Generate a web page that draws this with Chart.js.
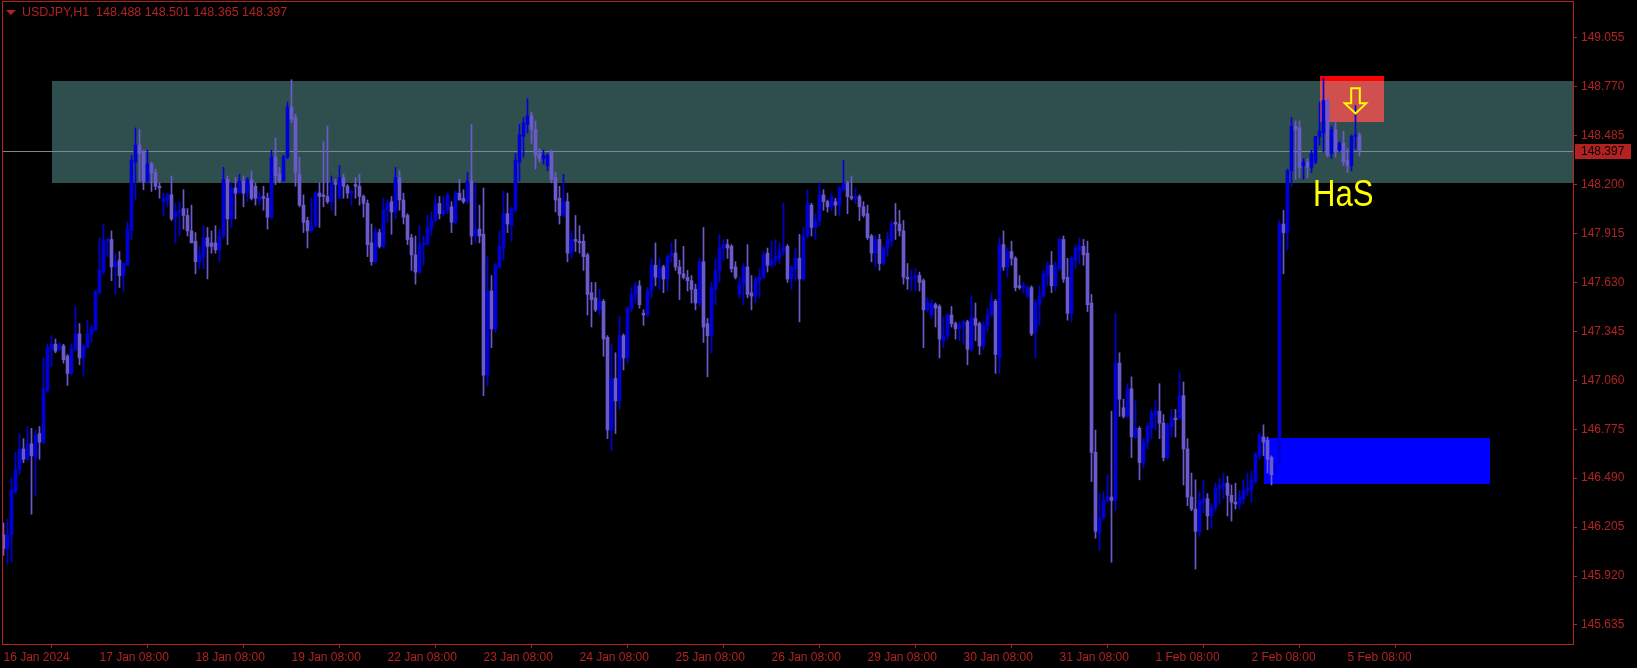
<!DOCTYPE html>
<html>
<head>
<meta charset="utf-8">
<script src="https://cdn.jsdelivr.net/npm/chart.js@4.4.0/dist/chart.umd.min.js"></script>
<style>
  html, body { margin: 0; padding: 0; background: #000; }
  canvas { display: block; }
</style>
</head>
<body>
<canvas id="chart" width="1637" height="668"></canvas>
<script>
const symbolTitle = 'USDJPY,H1';

// hourly candles, 16 Jan 08:00 .. 5 Feb 11:00
const openPrices = [
  146.16,146.08,146.16,146.41,146.54,146.66,146.60,146.69,146.61,146.75,
  146.70,147.00,147.24,147.27,147.24,147.26,147.20,147.10,147.24,147.33,
  147.19,147.25,147.33,147.35,147.57,147.69,147.87,147.88,147.72,147.76,
  147.67,147.73,147.93,148.33,148.43,148.39,148.22,148.32,148.27,148.19,
  148.10,148.11,148.14,148.01,148.04,148.06,148.02,147.93,147.87,147.75,
  147.78,147.89,147.86,147.86,147.82,147.90,148.23,148.00,148.18,148.15,
  148.22,148.15,148.23,148.19,148.11,148.13,148.12,148.01,148.36,148.26,
  148.22,148.36,148.65,148.59,148.26,148.08,147.99,147.93,147.96,148.15,
  148.14,148.13,148.10,148.21,148.12,148.24,148.19,148.15,148.20,148.19,
  148.13,148.09,147.86,147.75,147.92,147.84,148.05,148.10,148.04,148.24,
  148.11,148.02,147.89,147.79,147.69,147.85,147.85,147.95,147.99,148.09,
  148.03,148.05,148.07,147.98,148.15,148.12,148.10,148.22,147.90,147.94,
  147.91,147.09,147.58,147.36,147.72,147.83,148.03,147.96,148.05,148.33,
  148.48,148.55,148.60,148.52,148.38,148.35,148.31,148.39,148.24,148.12,
  148.02,148.10,147.80,147.88,147.87,147.87,147.79,147.57,147.54,147.47,
  147.52,147.31,146.77,147.07,146.94,147.32,147.19,147.48,147.56,147.61,
  147.45,147.44,147.58,147.73,147.66,147.72,147.65,147.78,147.80,147.72,
  147.68,147.66,147.64,147.59,147.51,147.75,147.39,147.32,147.59,147.70,
  147.83,147.85,147.84,147.72,147.56,147.62,147.72,147.57,147.55,147.64,
  147.66,147.80,147.73,147.76,147.77,147.81,147.84,147.65,147.71,147.77,
  147.65,147.90,148.08,147.95,147.99,148.14,148.10,148.07,148.10,148.08,
  148.17,148.21,148.13,148.12,148.13,148.07,148.03,147.90,147.80,147.88,
  147.74,147.83,147.87,147.98,147.97,147.93,147.66,147.65,147.66,147.67,
  147.64,147.47,147.44,147.50,147.49,147.29,147.32,147.44,147.39,147.36,
  147.38,147.40,147.24,147.42,147.39,147.26,147.38,147.44,147.52,147.19,
  147.85,147.72,147.81,147.77,147.61,147.60,147.55,147.60,147.34,147.50,
  147.55,147.67,147.73,147.61,147.71,147.88,147.66,147.45,147.76,147.82,
  147.84,147.80,147.51,146.64,146.17,146.26,146.36,146.38,146.36,147.16,
  146.90,146.85,147.01,146.73,146.78,146.58,146.70,146.78,146.86,146.88,
  146.81,146.61,146.79,146.84,146.84,146.97,146.66,146.38,146.31,146.18,
  146.35,146.37,146.27,146.32,146.43,146.44,146.46,146.39,146.35,146.34,
  146.37,146.42,146.42,146.47,146.62,146.73,146.71,146.61,146.52,146.58,
  147.97,147.92,148.28,148.54,148.53,148.31,148.33,148.30,148.33,148.48,
  148.50,148.69,148.38,148.52,148.40,148.44,148.34,148.31,148.48,148.488
];
const highPrices = [
  146.23,146.25,146.49,146.64,146.75,146.72,146.79,146.78,146.77,146.79,
  147.19,147.27,147.32,147.30,147.28,147.27,147.21,147.27,147.49,147.39,
  147.27,147.41,147.38,147.58,147.89,147.97,147.89,147.93,147.80,147.81,
  147.74,147.98,148.37,148.53,148.52,148.40,148.40,148.33,148.29,148.21,
  148.15,148.15,148.25,148.09,148.10,148.17,148.06,148.08,147.92,147.84,
  147.96,147.95,147.93,147.96,147.94,148.30,148.25,148.21,148.24,148.26,
  148.25,148.24,148.28,148.21,148.16,148.19,148.15,148.40,148.47,148.30,
  148.37,148.68,148.81,148.61,148.36,148.14,148.01,148.12,148.16,148.21,
  148.45,148.54,148.25,148.23,148.31,148.26,148.20,148.17,148.24,148.26,
  148.14,148.11,147.97,147.95,147.94,148.12,148.11,148.13,148.30,148.28,
  148.15,148.03,147.91,147.90,147.96,147.90,148.02,148.04,148.14,148.13,
  148.13,148.15,148.10,148.16,148.23,148.17,148.27,148.55,148.21,148.08,
  148.18,147.78,147.67,147.74,147.93,148.16,148.15,148.07,148.38,148.55,
  148.59,148.70,148.62,148.57,148.41,148.40,148.38,148.40,148.27,148.19,
  148.26,148.15,147.93,148.02,147.96,147.91,147.80,147.63,147.63,147.59,
  147.53,147.32,147.27,147.22,147.43,147.33,147.49,147.60,147.63,147.64,
  147.47,147.60,147.77,147.86,147.77,147.73,147.79,147.86,147.88,147.76,
  147.84,147.70,147.67,147.62,147.77,147.95,147.42,147.63,147.77,147.91,
  147.88,147.88,147.85,147.75,147.66,147.74,147.85,147.67,147.66,147.71,
  147.81,147.83,147.87,147.88,147.86,148.09,147.85,147.73,147.83,147.91,
  147.95,148.17,148.09,148.03,148.21,148.17,148.11,148.15,148.12,148.19,
  148.34,148.22,148.25,148.18,148.14,148.10,148.08,147.91,147.90,147.91,
  147.84,147.92,147.99,148.09,148.05,147.99,147.74,147.70,147.71,147.69,
  147.65,147.54,147.53,147.51,147.50,147.43,147.45,147.49,147.40,147.40,
  147.41,147.41,147.55,147.51,147.40,147.40,147.48,147.57,147.53,147.89,
  147.93,147.83,147.87,147.78,147.67,147.63,147.61,147.61,147.53,147.61,
  147.70,147.75,147.81,147.75,147.89,147.90,147.77,147.78,147.85,147.89,
  147.88,147.87,147.56,146.77,146.40,146.41,146.51,146.88,147.45,147.22,
  146.95,147.04,147.08,146.94,146.79,146.72,146.81,146.89,146.94,147.04,
  146.86,146.81,146.89,146.89,147.11,147.05,146.72,146.52,146.48,146.41,
  146.48,146.40,146.34,146.46,146.49,146.52,146.50,146.45,146.46,146.42,
  146.48,146.52,146.53,146.64,146.75,146.80,146.73,146.62,146.59,147.99,
  148.05,148.29,148.59,148.57,148.57,148.35,148.35,148.40,148.48,148.68,
  148.82,148.70,148.54,148.57,148.45,148.51,148.41,148.49,148.66,148.501
];
const lowPrices = [
  146.04,145.99,146.00,146.40,146.51,146.58,146.59,146.28,146.39,146.60,
  146.69,146.99,147.14,147.22,147.23,147.16,147.03,147.09,147.23,147.15,
  147.09,147.25,147.28,147.35,147.56,147.68,147.78,147.64,147.56,147.60,
  147.58,147.73,147.88,148.11,148.22,148.17,148.21,148.16,148.17,148.12,
  148.02,148.07,147.99,147.86,147.90,147.94,147.90,147.86,147.68,147.71,
  147.71,147.65,147.80,147.80,147.75,147.89,147.85,147.95,148.00,148.15,
  148.07,148.10,148.11,148.08,148.08,148.05,147.94,148.00,148.20,148.21,
  148.22,148.35,148.56,148.19,148.07,147.92,147.83,147.92,147.95,147.95,
  148.07,148.09,148.05,148.02,148.12,148.12,148.12,148.08,148.12,148.08,
  148.01,147.78,147.73,147.74,147.83,147.83,147.98,147.91,148.00,148.05,
  147.97,147.85,147.70,147.62,147.68,147.73,147.85,147.90,147.98,148.00,
  148.02,148.03,147.92,147.97,148.11,148.09,148.09,147.85,147.86,147.86,
  146.97,147.03,147.25,147.34,147.71,147.76,147.92,147.87,148.04,148.22,
  148.36,148.50,148.44,148.29,148.33,148.32,148.28,148.21,148.04,147.97,
  148.01,147.75,147.77,147.81,147.80,147.70,147.44,147.37,147.46,147.44,
  147.20,146.72,146.65,146.75,146.89,147.12,147.16,147.46,147.51,147.48,
  147.38,147.43,147.54,147.61,147.59,147.57,147.58,147.75,147.70,147.53,
  147.65,147.58,147.51,147.47,147.49,147.28,147.08,147.22,147.50,147.63,
  147.76,147.77,147.69,147.65,147.54,147.50,147.54,147.47,147.51,147.54,
  147.65,147.69,147.72,147.73,147.74,147.79,147.63,147.59,147.64,147.40,
  147.64,147.89,147.90,147.88,147.96,148.05,148.04,148.05,148.02,148.02,
  148.16,148.03,148.11,148.09,147.99,148.01,147.88,147.75,147.72,147.70,
  147.73,147.78,147.84,147.88,147.90,147.62,147.59,147.58,147.58,147.58,
  147.25,147.46,147.42,147.37,147.19,147.25,147.30,147.37,147.30,147.29,
  147.27,147.15,147.23,147.29,147.21,147.24,147.34,147.43,147.10,147.10,
  147.70,147.66,147.73,147.58,147.59,147.57,147.54,147.32,147.19,147.38,
  147.54,147.61,147.57,147.58,147.70,147.63,147.41,147.40,147.71,147.74,
  147.73,147.46,146.47,146.14,146.07,146.25,146.35,146.00,146.30,146.85,
  146.84,146.84,146.61,146.72,146.48,146.55,146.66,146.72,146.77,146.72,
  146.59,146.60,146.73,146.73,146.83,146.45,146.33,146.30,145.96,146.15,
  146.29,146.19,146.20,146.30,146.34,146.37,146.27,146.24,146.31,146.31,
  146.34,146.39,146.35,146.46,146.60,146.62,146.52,146.45,146.51,146.56,
  147.68,147.82,148.19,148.23,148.24,148.23,148.24,148.27,148.32,148.43,
  148.39,148.36,148.35,148.36,148.39,148.31,148.27,148.28,148.41,148.365
];
const closePrices = [
  146.08,146.16,146.42,146.54,146.66,146.60,146.69,146.62,146.74,146.70,
  147.01,147.25,147.27,147.23,147.26,147.18,147.10,147.24,147.33,147.19,
  147.26,147.33,147.36,147.58,147.70,147.87,147.88,147.72,147.75,147.67,
  147.74,147.94,148.34,148.43,148.38,148.22,148.32,148.27,148.19,148.18,
  148.12,148.14,148.00,148.04,148.05,148.02,147.93,147.86,147.75,147.79,
  147.89,147.84,147.84,147.82,147.90,148.23,148.00,148.18,148.15,148.22,
  148.15,148.23,148.12,148.12,148.13,148.12,148.01,148.36,148.25,148.22,
  148.36,148.65,148.58,148.27,148.08,147.98,147.93,147.96,148.15,148.13,
  148.13,148.10,148.21,148.20,148.24,148.19,148.15,148.16,148.19,148.13,
  148.09,147.85,147.75,147.92,147.84,148.05,148.09,148.04,148.24,148.11,
  148.01,147.88,147.79,147.69,147.85,147.86,147.95,147.99,148.09,148.03,
  148.05,148.14,147.98,148.15,148.11,148.10,148.22,147.90,147.94,147.90,
  147.09,147.58,147.36,147.73,147.84,148.03,147.97,148.06,148.34,148.49,
  148.56,148.60,148.52,148.37,148.35,148.37,148.37,148.23,148.11,148.02,
  148.10,147.80,147.88,147.87,147.86,147.78,147.56,147.53,147.47,147.52,
  147.30,146.77,147.07,146.94,147.32,147.19,147.48,147.56,147.61,147.50,
  147.44,147.58,147.73,147.66,147.71,147.65,147.78,147.80,147.72,147.68,
  147.66,147.64,147.59,147.51,147.75,147.37,147.32,147.60,147.70,147.83,
  147.85,147.83,147.71,147.66,147.62,147.72,147.56,147.55,147.65,147.66,
  147.79,147.73,147.76,147.78,147.81,147.83,147.65,147.72,147.77,147.65,
  147.90,148.09,147.95,147.99,148.14,148.10,148.07,148.13,148.08,148.18,
  148.21,148.13,148.12,148.13,148.07,148.02,147.89,147.80,147.88,147.74,
  147.83,147.88,147.97,147.97,147.93,147.66,147.65,147.66,147.67,147.63,
  147.47,147.51,147.51,147.48,147.30,147.32,147.44,147.39,147.36,147.38,
  147.40,147.24,147.43,147.38,147.26,147.38,147.44,147.52,147.21,147.85,
  147.72,147.81,147.77,147.60,147.60,147.61,147.60,147.33,147.51,147.55,
  147.68,147.73,147.61,147.72,147.88,147.65,147.45,147.77,147.83,147.84,
  147.79,147.50,146.64,146.18,146.26,146.36,146.38,146.36,147.16,146.95,
  146.85,147.01,146.73,146.78,146.58,146.70,146.79,146.87,146.88,146.81,
  146.61,146.80,146.84,146.83,146.97,146.66,146.38,146.31,146.18,146.36,
  146.37,146.27,146.32,146.43,146.45,146.46,146.39,146.35,146.34,146.38,
  146.42,146.43,146.48,146.63,146.74,146.70,146.60,146.51,146.58,147.97,
  147.92,148.28,148.54,148.52,148.30,148.33,148.30,148.38,148.48,148.51,
  148.69,148.37,148.52,148.39,148.44,148.33,148.31,148.48,148.488,148.397
];

const priceTicks = [149.055, 148.770, 148.485, 148.200, 147.915, 147.630, 147.345,
  147.060, 146.775, 146.490, 146.205, 145.920, 145.635];
const timeTickBars = [0, 24, 48, 72, 96, 120, 144, 168, 192, 216, 240, 264, 288, 312, 336];
const timeTickLabels = ['16 Jan 2024', '17 Jan 08:00', '18 Jan 08:00', '19 Jan 08:00',
  '22 Jan 08:00', '23 Jan 08:00', '24 Jan 08:00', '25 Jan 08:00', '26 Jan 08:00',
  '29 Jan 08:00', '30 Jan 08:00', '31 Jan 08:00', '1 Feb 08:00', '2 Feb 08:00', '5 Feb 08:00'];

// drawn objects: bar index range + price range
const supplyZone = [12, 420, 148.803, 148.211];
const signalBox = [329, 345, 148.834, 148.566];
const demandBox = [315, 371.6, 146.721, 146.453];
const arrowAt = [338, 148.76];
const noteText = ['HaS', 327.4, 148.077];

const AXIS_RED = '#b22222';
const BULL = '#0000dc';
const BEAR = '#6a5acd';

const bars = openPrices.map((_, i) => i);
const candleColor = bars.map(i => closePrices[i] >= openPrices[i] ? BULL : BEAR);
const lastClose = closePrices[closePrices.length - 1];

const objectsPlugin = {
    id: 'objects',
    beforeDatasetsDraw(chart) {
        const { ctx, chartArea: ca, scales: { x, y } } = chart;
        ctx.save();
        ctx.beginPath();
        ctx.rect(ca.left, ca.top, ca.right - ca.left, ca.bottom - ca.top);
        ctx.clip();

        const box = (b) => {
            const x1 = Math.round(x.getPixelForValue(b[0]));
            const x2 = Math.min(ca.right, Math.round(x.getPixelForValue(b[1])));
            const y1 = Math.round(y.getPixelForValue(b[2]));
            const y2 = Math.round(y.getPixelForValue(b[3]));
            return { x1, x2, y1, y2 };
        };

        const z = box(supplyZone);
        ctx.fillStyle = '#2f4f4f';
        ctx.fillRect(z.x1, z.y1, z.x2 - z.x1, z.y2 - z.y1);

        const r = box(signalBox);
        ctx.fillStyle = 'rgb(208,79,79)';
        ctx.fillRect(r.x1, r.y1, r.x2 - r.x1, r.y2 - r.y1);
        if (r.y1 < z.y1) {
            ctx.fillStyle = '#ff0000';
            ctx.fillRect(r.x1, r.y1, r.x2 - r.x1, z.y1 - r.y1);
        }

        const d = box(demandBox);
        ctx.fillStyle = '#0000ff';
        ctx.fillRect(d.x1, d.y1, d.x2 - d.x1, d.y2 - d.y1);

        // bid line
        const py = Math.round(y.getPixelForValue(lastClose)) + 0.5;
        ctx.strokeStyle = '#778899';
        ctx.lineWidth = 1;
        ctx.beginPath();
        ctx.moveTo(ca.left, py);
        ctx.lineTo(ca.right, py);
        ctx.stroke();
        ctx.restore();
    },
    afterDatasetsDraw(chart) {
        const { ctx, scales: { x, y } } = chart;
        ctx.save();
        // hollow down arrow
        const cx = x.getPixelForValue(arrowAt[0]);
        const ty = y.getPixelForValue(arrowAt[1]);
        const pts = [[-4.3, 0], [4.3, 0], [4.3, 15], [10.7, 15], [0, 25], [-10.7, 15], [-4.3, 15]];
        ctx.beginPath();
        pts.forEach((p, k) => k ? ctx.lineTo(cx + p[0], ty + p[1]) : ctx.moveTo(cx + p[0], ty + p[1]));
        ctx.closePath();
        ctx.strokeStyle = '#ffff00';
        ctx.lineWidth = 2;
        ctx.lineJoin = 'miter';
        ctx.stroke();

        // label, squeezed to the narrow face of the original
        ctx.fillStyle = '#ffff00';
        ctx.font = '37px "Liberation Sans", Arial, sans-serif';
        ctx.textBaseline = 'alphabetic';
        ctx.textAlign = 'left';
        ctx.translate(x.getPixelForValue(noteText[1]), y.getPixelForValue(noteText[2]));
        ctx.scale(0.84, 1);
        ctx.fillText(noteText[0], 0, 0);
        ctx.restore();
    },
    afterDraw(chart) {
        const { ctx, chartArea: ca, scales: { y } } = chart;
        ctx.save();
        ctx.strokeStyle = AXIS_RED;
        ctx.lineWidth = 1;
        ctx.strokeRect(ca.left + 0.5, ca.top - 0.5, ca.right - ca.left, ca.bottom - ca.top + 1);

        // last price label
        const py = Math.round(y.getPixelForValue(lastClose));
        ctx.fillStyle = AXIS_RED;
        ctx.fillRect(ca.right + 2, py - 7, 56, 15);
        ctx.fillStyle = '#000000';
        ctx.font = '12px "Liberation Sans", Arial, sans-serif';
        ctx.textBaseline = 'middle';
        ctx.textAlign = 'left';
        ctx.fillText(lastClose.toFixed(3), ca.right + 8, py + 1);

        // header
        ctx.fillStyle = AXIS_RED;
        ctx.beginPath();
        ctx.moveTo(6, 10);
        ctx.lineTo(16, 10);
        ctx.lineTo(11, 15);
        ctx.closePath();
        ctx.fill();
        const last = openPrices.length - 1;
        const head = symbolTitle + '  ' + [openPrices[last], highPrices[last], lowPrices[last], closePrices[last]]
            .map(v => v.toFixed(3)).join(' ');
        ctx.font = '12.5px "Liberation Sans", Arial, sans-serif';
        ctx.fillText(head, 22, 13);
        ctx.restore();
    }
};

Chart.defaults.font.family = '"Liberation Sans", Arial, sans-serif';
Chart.defaults.font.size = 12;
Chart.defaults.color = AXIS_RED;

new Chart(document.getElementById('chart'), {
    type: 'bar',
    data: {
        datasets: [
            {
                label: 'body',
                data: bars.map(i => ({ x: i, y: [openPrices[i], closePrices[i]] })),
                backgroundColor: candleColor,
                barThickness: 3,
                minBarLength: 1,
                grouped: false,
                borderWidth: 0
            },
            {
                label: 'wick',
                data: bars.map(i => ({ x: i, y: [lowPrices[i], highPrices[i]] })),
                backgroundColor: candleColor,
                barThickness: 1,
                minBarLength: 1,
                grouped: false,
                borderWidth: 0
            }
        ]
    },
    options: {
        responsive: false,
        animation: false,
        events: [],
        layout: { padding: { left: 2, top: 2, right: 0, bottom: 0 } },
        plugins: { legend: { display: false }, tooltip: { enabled: false } },
        scales: {
            x: {
                type: 'linear',
                offset: false,
                min: -0.375,
                max: 392.375,
                afterBuildTicks: (scale) => { scale.ticks = timeTickBars.map(v => ({ value: v })); },
                afterFit: (scale) => {
                    scale.height = 24;
                    scale.paddingLeft = 0;
                    scale.paddingRight = 0;
                },
                ticks: {
                    autoSkip: false,
                    maxRotation: 0,
                    align: 'start',
                    padding: 2,
                    color: AXIS_RED,
                    callback: (v) => timeTickLabels[timeTickBars.indexOf(v)]
                },
                grid: { drawOnChartArea: false, drawTicks: true, tickLength: 4, color: AXIS_RED },
                border: { display: false }
            },
            y: {
                position: 'right',
                min: 145.524,
                max: 149.263,
                afterBuildTicks: (scale) => { scale.ticks = priceTicks.map(v => ({ value: v })); },
                afterFit: (scale) => {
                    scale.width = 64;
                    scale.paddingTop = 0;
                    scale.paddingBottom = 0;
                },
                ticks: {
                    padding: 4,
                    color: AXIS_RED,
                    callback: (v) => v.toFixed(3)
                },
                grid: { drawOnChartArea: false, drawTicks: true, tickLength: 4, color: AXIS_RED },
                border: { display: false }
            }
        }
    },
    plugins: [objectsPlugin]
});
</script>
</body>
</html>
